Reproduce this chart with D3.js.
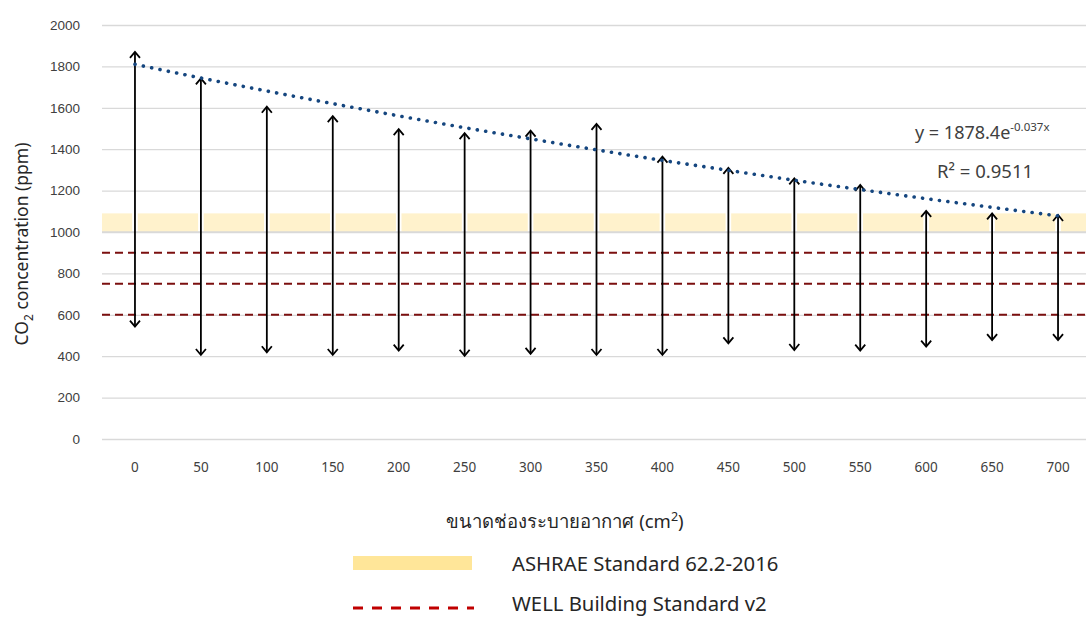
<!DOCTYPE html>
<html>
<head>
<meta charset="utf-8">
<script src="https://cdn.jsdelivr.net/npm/d3@7"></script>
<style>
  html, body { margin: 0; padding: 0; background: #fff; }
  svg { display: block; font-family: "Noto Sans", "Open Sans", sans-serif; }
</style>
</head>
<body>
<svg id="chart" width="1086" height="619"></svg>
<script>
// ---- data ----
const categories = ["0","50","100","150","200","250","300","350","400","450","500","550","600","650","700"];
const maxValues  = [1870,1742,1605,1560,1497,1478,1490,1522,1364,1310,1259,1227,1102,1090,1082];
const minValues  = [543,406,419,406,427,402,411,406,406,462,430,427,446,478,478];
const trendValues = [1810,1744,1681,1620,1561,1504,1450,1397,1346,1298,1250,1205,1161,1119,1078];
const yTicks = [0,200,400,600,800,1000,1200,1400,1600,1800,2000];
const ashraeBand = [1000, 1090];
const wellLevels = [900, 750, 600];
const equationText = "y = 1878.4e";
const equationExp = "-0.037x";
const r2Text = "R² = 0.9511";
const xTitle = "ขนาดช่องระบายอากาศ (cm";
const legendLabels = ["ASHRAE Standard 62.2-2016", "WELL Building Standard v2"];

// ---- layout ----
const svg = d3.select("#chart");
const plotLeft = 102, plotRight = 1091, plotTop = 25, plotBottom = 439;
const x = d3.scaleBand().domain(categories).range([plotLeft, plotRight]).padding(0);
const cx = c => x(c) + x.bandwidth() / 2;
const y = d3.scaleLinear().domain([0, 2000]).range([plotBottom, plotTop]);

// gridlines
const yAxis = d3.axisLeft(y).tickValues(yTicks).tickSize(-(plotRight - plotLeft)).tickPadding(22).tickFormat(d3.format("d"));
const gy = svg.append("g").attr("transform", `translate(${plotLeft},0)`).call(yAxis);
gy.select(".domain").remove();
gy.selectAll(".tick line").attr("stroke", "#d9d9d9").attr("stroke-width", 1.3);
gy.selectAll(".tick text").attr("fill", "#404040").style("font-size", "13.5px").attr("x", -22);

// ASHRAE band segments (gaps at category centres)
const gap = 2.8;
const edges = [plotLeft].concat(categories.map(cx)).concat([plotRight]);
const segs = [];
for (let i = 0; i < edges.length - 1; i++) {
  const a = i === 0 ? edges[i] : edges[i] + gap;
  const b = i === edges.length - 2 ? edges[i + 1] : edges[i + 1] - gap;
  segs.push([a, b]);
}
svg.append("g").selectAll("rect").data(segs).join("rect")
  .attr("x", d => d[0]).attr("width", d => d[1] - d[0])
  .attr("y", y(ashraeBand[1])).attr("height", y(ashraeBand[0]) - y(ashraeBand[1]))
  .attr("fill", "#fff2cc");
svg.append("line").attr("x1", plotLeft).attr("x2", plotRight)
  .attr("y1", y(1000)).attr("y2", y(1000)).attr("stroke", "#d9d9d9").attr("stroke-width", 1.3);

// WELL dashed lines
svg.append("g").selectAll("line").data(wellLevels).join("line")
  .attr("x1", plotLeft).attr("x2", plotRight)
  .attr("y1", d => y(d)).attr("y2", d => y(d))
  .attr("stroke", "#7b0f0f").attr("stroke-width", 2).attr("stroke-dasharray", "8,5");

// range arrows
const arrows = svg.append("g");
categories.forEach((c, i) => {
  const xc = cx(c), yt = y(maxValues[i]), yb = y(minValues[i]);
  arrows.append("line").attr("x1", xc).attr("x2", xc).attr("y1", yt + 1).attr("y2", yb - 1)
    .attr("stroke", "#000").attr("stroke-width", 1.8);
  arrows.append("path").attr("d", `M${xc - 5},${yt + 6} L${xc},${yt} L${xc + 5},${yt + 6}`)
    .attr("fill", "none").attr("stroke", "#000").attr("stroke-width", 1.8);
  arrows.append("path").attr("d", `M${xc - 5},${yb - 6} L${xc},${yb} L${xc + 5},${yb - 6}`)
    .attr("fill", "none").attr("stroke", "#000").attr("stroke-width", 1.8);
});

// trendline (dotted)
const line = d3.line().x((d, i) => cx(categories[i])).y(d => y(d)).curve(d3.curveMonotoneX);
svg.append("path").datum(trendValues).attr("d", line)
  .attr("fill", "none").attr("stroke", "#15467f").attr("stroke-width", 3.6)
  .attr("stroke-linecap", "round").attr("stroke-dasharray", "0.1,8.4");

// x labels
svg.append("g").selectAll("text").data(categories).join("text")
  .attr("x", d => cx(d)).attr("y", 472).attr("text-anchor", "middle")
  .attr("fill", "#404040").style("font-size", "13.5px").text(d => d);

// equation
const eq = svg.append("text").attr("x", 915).attr("y", 139).attr("fill", "#404040").style("font-size", "18px");
eq.append("tspan").text(equationText);
eq.append("tspan").attr("dy", -8).style("font-size", "11.5px").text(equationExp);
svg.append("text").attr("x", 937).attr("y", 178).attr("fill", "#404040").style("font-size", "18.5px").text(r2Text);

// y axis title
const yt = svg.append("text").attr("transform", "translate(28,244) rotate(-90)")
  .attr("text-anchor", "middle").attr("fill", "#262626").style("font-size", "17.5px");
yt.append("tspan").text("CO");
yt.append("tspan").attr("dy", 5).style("font-size", "12px").text("2");
yt.append("tspan").attr("dy", -5).text(" concentration (ppm)");

// x axis title
const xt = svg.append("text").attr("x", 565).attr("y", 528).attr("text-anchor", "middle")
  .attr("fill", "#262626").style("font-size", "18.5px");
xt.append("tspan").text(xTitle);
xt.append("tspan").attr("dy", -7).style("font-size", "12.5px").text("2");
xt.append("tspan").attr("dy", 7).text(")");

// legend
svg.append("rect").attr("x", 353).attr("y", 556).attr("width", 119).attr("height", 14).attr("fill", "#ffe699");
svg.append("line").attr("x1", 353).attr("x2", 474).attr("y1", 608).attr("y2", 608)
  .attr("stroke", "#c00000").attr("stroke-width", 3).attr("stroke-dasharray", "10,9");
svg.append("g").selectAll("text").data(legendLabels).join("text")
  .attr("x", 512).attr("y", (d, i) => 571 + i * 40)
  .attr("fill", "#262626").style("font-size", "20.3px").text(d => d);
</script>
</body>
</html>
